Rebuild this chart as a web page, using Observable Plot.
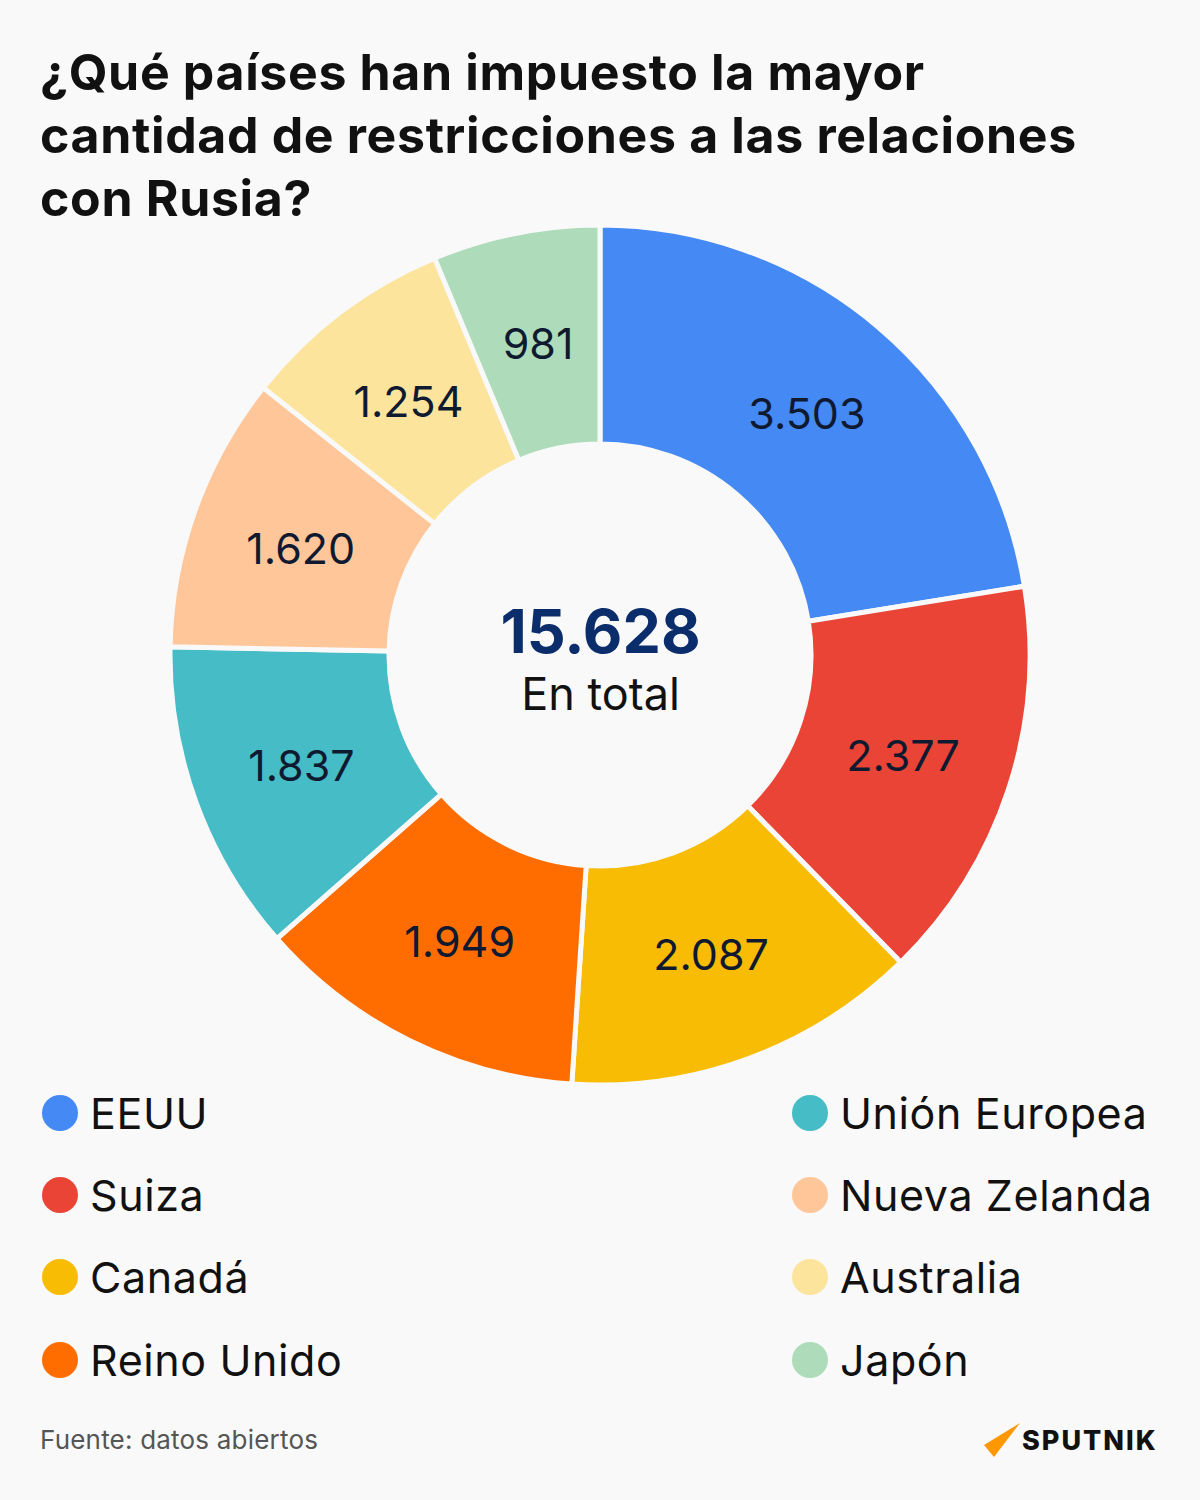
<!DOCTYPE html>
<html>
<head>
<meta charset="utf-8">
<script src="https://cdn.jsdelivr.net/npm/d3@7"></script>
<script src="https://cdn.jsdelivr.net/npm/@observablehq/plot@0.6"></script>
<style>
  html, body { margin: 0; padding: 0; background: #f9f9f9; }
  #page { position: relative; width: 1200px; height: 1500px; background: #f9f9f9; font-family: Inter, "Noto Sans", sans-serif; color: #111; overflow: hidden; }
  #title { position: absolute; left: 40px; top: 41px; width: 1150px; font-size: 50px; font-weight: 700; line-height: 63px; margin: 0; letter-spacing: 0.65px; white-space: nowrap; }
  #chart { position: absolute; left: 0; top: 215px; }
  .lg { position: absolute; display: flex; align-items: center; font-size: 43px; height: 50px; letter-spacing: 0.6px; }
  .lg .dot { width: 36px; height: 36px; border-radius: 50%; margin-right: 12px; flex: none; }
  #source { position: absolute; left: 40px; top: 1424px; font-size: 26px; color: #555; letter-spacing: 0.2px; }
  #logo { position: absolute; left: 980px; top: 1420px; }
</style>
</head>
<body>
<div id="page">
  <h1 id="title"></h1>
  <div id="chart"></div>
  <div id="legend"></div>
  <div id="source">Fuente: datos abiertos</div>
  <svg id="logo" width="200" height="45" viewBox="0 0 200 45">
    <polygon points="4,25 40,3 14,37" fill="#ff9800"/>
    <text x="42" y="30" font-family="Inter, sans-serif" font-weight="800" font-size="27" fill="#111" letter-spacing="2">SPUTNIK</text>
  </svg>
</div>
<script>
const titleLines = ["¿Qué países han impuesto la mayor", "cantidad de restricciones a las relaciones", "con Rusia?"];
const countries = ["EEUU", "Suiza", "Canadá", "Reino Unido", "Unión Europea", "Nueva Zelanda", "Australia", "Japón"];
const values = [3503, 2377, 2087, 1949, 1837, 1620, 1254, 981];
const colors = ["#4589f5", "#ea4436", "#f8bc04", "#ff6d01", "#46bcc6", "#ffc69a", "#fce49d", "#aedcba"];
const totalValue = 15628; // total as stated on the chart
const totalText = "En total";

document.getElementById("title").innerHTML = titleLines.join("<br>");

const fmt = d3.formatLocale({decimal: ",", thousands: ".", grouping: [3], currency: ["", ""]}).format(",d");
const data = countries.map((c, i) => ({country: c, value: values[i]}));

const color = Plot.scale({color: {type: "ordinal", domain: countries, range: colors}});

const outerR = 430, innerR = 211;
const arcs = d3.pie().sort(null).value(d => d.value)(data);
const arc = d3.arc().innerRadius(innerR).outerRadius(outerR);
const labelArc = d3.arc().innerRadius(innerR).outerRadius(outerR - 4);
const labelData = arcs.map(a => {
  const [x, y] = labelArc.centroid(a);
  return {x, y, label: fmt(a.data.value)};
});

const chart = Plot.plot({
  width: 1200,
  height: 880,
  margin: 0,
  style: {background: "transparent", fontFamily: "Inter, 'Noto Sans', sans-serif"},
  x: {domain: [-600, 600], range: [0, 1200], axis: null},
  y: {domain: [-440, 440], range: [0, 880], axis: null},
  marks: [
    (index, scales) => {
      const g = d3.create("svg:g")
        .attr("transform", `translate(${scales.x(0)},${scales.y(0)})`);
      g.selectAll("path").data(arcs).join("path")
        .attr("d", arc)
        .attr("fill", d => color.apply(d.data.country))
        .attr("stroke", "#f9f9f9")
        .attr("stroke-width", 5)
        .attr("stroke-linejoin", "miter");
      return g.node();
    },
    Plot.text(labelData, {x: "x", y: "y", text: "label", fontSize: 43, fill: "#0f1a30", dy: 2, letterSpacing: "0.5px"}),
    Plot.text([fmt(totalValue)], {x: () => 0, y: () => -22, text: d => d, fontSize: 61, fontWeight: 700, fill: "#0b2d6c", letterSpacing: "-0.5px"}),
    Plot.text([totalText], {x: () => 0, y: () => 40, text: d => d, fontSize: 45, fill: "#111", letterSpacing: "0.6px"})
  ]
});
document.getElementById("chart").appendChild(chart);

// legend
const legend = document.getElementById("legend");
const rowY = [1113, 1195, 1277, 1360];
countries.forEach((c, i) => {
  const col = i < 4 ? 0 : 1;
  const row = i % 4;
  const el = document.createElement("div");
  el.className = "lg";
  el.style.left = (col === 0 ? 42 : 792) + "px";
  el.style.top = (rowY[row] - 25) + "px";
  const dot = document.createElement("span");
  dot.className = "dot";
  dot.style.background = color.apply(c);
  const t = document.createElement("span");
  t.textContent = c;
  el.appendChild(dot);
  el.appendChild(t);
  legend.appendChild(el);
});
</script>
</body>
</html>
